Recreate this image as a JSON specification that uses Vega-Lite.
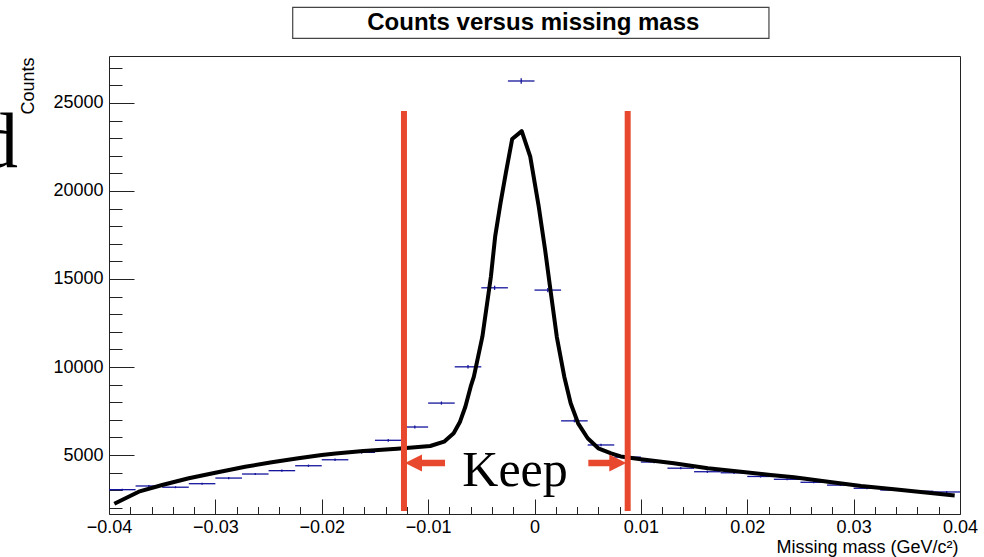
{
  "$schema": "https://vega.github.io/schema/vega-lite/v6.json",
  "autosize": {"type": "none"},
  "padding": {"left": 109, "top": 56, "right": 24, "bottom": 43},
  "width": 851,
  "height": 458,
  "background": "white",
  "config": {
    "view": {"stroke": "#222", "strokeWidth": 1},
    "font": "Liberation Sans"
  },
  "datasets": {
    "hist": [
      {"lo": -0.04, "hi": -0.0375, "c": -0.03875, "v": 3030, "vlo": 2975, "vhi": 3085},
      {"lo": -0.0375, "hi": -0.035, "c": -0.03625, "v": 3240, "vlo": 3183, "vhi": 3297},
      {"lo": -0.035, "hi": -0.0325, "c": -0.03375, "v": 3170, "vlo": 3114, "vhi": 3226},
      {"lo": -0.0325, "hi": -0.03, "c": -0.03125, "v": 3370, "vlo": 3312, "vhi": 3428},
      {"lo": -0.03, "hi": -0.0275, "c": -0.02875, "v": 3690, "vlo": 3629, "vhi": 3751},
      {"lo": -0.0275, "hi": -0.025, "c": -0.02625, "v": 3920, "vlo": 3857, "vhi": 3983},
      {"lo": -0.025, "hi": -0.0225, "c": -0.02375, "v": 4110, "vlo": 4046, "vhi": 4174},
      {"lo": -0.0225, "hi": -0.02, "c": -0.02125, "v": 4390, "vlo": 4324, "vhi": 4456},
      {"lo": -0.02, "hi": -0.0175, "c": -0.01875, "v": 4730, "vlo": 4661, "vhi": 4799},
      {"lo": -0.0175, "hi": -0.015, "c": -0.01625, "v": 5150, "vlo": 5078, "vhi": 5222},
      {"lo": -0.015, "hi": -0.0125, "c": -0.01375, "v": 5835, "vlo": 5759, "vhi": 5911},
      {"lo": -0.0125, "hi": -0.01, "c": -0.01125, "v": 6590, "vlo": 6509, "vhi": 6671},
      {"lo": -0.01, "hi": -0.0075, "c": -0.00875, "v": 7950, "vlo": 7861, "vhi": 8039},
      {"lo": -0.0075, "hi": -0.005, "c": -0.00625, "v": 10010, "vlo": 9910, "vhi": 10110},
      {"lo": -0.005, "hi": -0.0025, "c": -0.00375, "v": 14500, "vlo": 14380, "vhi": 14620},
      {"lo": -0.0025, "hi": 0, "c": -0.00125, "v": 26250, "vlo": 26088, "vhi": 26412},
      {"lo": 0, "hi": 0.0025, "c": 0.00125, "v": 14370, "vlo": 14250, "vhi": 14490},
      {"lo": 0.0025, "hi": 0.005, "c": 0.00375, "v": 6940, "vlo": 6857, "vhi": 7023},
      {"lo": 0.005, "hi": 0.0075, "c": 0.00625, "v": 5570, "vlo": 5495, "vhi": 5645},
      {"lo": 0.0075, "hi": 0.01, "c": 0.00875, "v": 4880, "vlo": 4810, "vhi": 4950},
      {"lo": 0.01, "hi": 0.0125, "c": 0.01125, "v": 4600, "vlo": 4532, "vhi": 4668},
      {"lo": 0.0125, "hi": 0.015, "c": 0.01375, "v": 4250, "vlo": 4185, "vhi": 4315},
      {"lo": 0.015, "hi": 0.0175, "c": 0.01625, "v": 4050, "vlo": 3986, "vhi": 4114},
      {"lo": 0.0175, "hi": 0.02, "c": 0.01875, "v": 3990, "vlo": 3927, "vhi": 4053},
      {"lo": 0.02, "hi": 0.0225, "c": 0.02125, "v": 3780, "vlo": 3719, "vhi": 3841},
      {"lo": 0.0225, "hi": 0.025, "c": 0.02375, "v": 3620, "vlo": 3560, "vhi": 3680},
      {"lo": 0.025, "hi": 0.0275, "c": 0.02625, "v": 3450, "vlo": 3391, "vhi": 3509},
      {"lo": 0.0275, "hi": 0.03, "c": 0.02875, "v": 3290, "vlo": 3233, "vhi": 3347},
      {"lo": 0.03, "hi": 0.0325, "c": 0.03125, "v": 3110, "vlo": 3054, "vhi": 3166},
      {"lo": 0.0325, "hi": 0.035, "c": 0.03375, "v": 3010, "vlo": 2955, "vhi": 3065},
      {"lo": 0.035, "hi": 0.0375, "c": 0.03625, "v": 2940, "vlo": 2886, "vhi": 2994},
      {"lo": 0.0375, "hi": 0.04, "c": 0.03875, "v": 2900, "vlo": 2846, "vhi": 2954}
    ],
    "fit": [
      {"x": -0.0395, "y": 2230}, {"x": -0.0372, "y": 2915}, {"x": -0.035, "y": 3295},
      {"x": -0.0325, "y": 3676}, {"x": -0.03, "y": 3994}, {"x": -0.0272, "y": 4335},
      {"x": -0.0247, "y": 4585}, {"x": -0.0222, "y": 4812}, {"x": -0.02, "y": 5000},
      {"x": -0.0187, "y": 5090}, {"x": -0.0161, "y": 5230}, {"x": -0.0129, "y": 5358},
      {"x": -0.0098, "y": 5511}, {"x": -0.0085, "y": 5756}, {"x": -0.0076, "y": 6233},
      {"x": -0.007, "y": 6892}, {"x": -0.0065, "y": 7744}, {"x": -0.006, "y": 8881},
      {"x": -0.0057, "y": 9450}, {"x": -0.0049, "y": 11722}, {"x": -0.0041, "y": 15131},
      {"x": -0.0037, "y": 17404}, {"x": -0.0032, "y": 19300}, {"x": -0.0027, "y": 21006},
      {"x": -0.0021, "y": 22950}, {"x": -0.0012, "y": 23400}, {"x": -0.0004, "y": 21950},
      {"x": 0.0004, "y": 19108}, {"x": 0.001, "y": 16648}, {"x": 0.0015, "y": 14375},
      {"x": 0.0021, "y": 11700}, {"x": 0.0028, "y": 9450}, {"x": 0.0034, "y": 7937},
      {"x": 0.0041, "y": 6801}, {"x": 0.005, "y": 5950}, {"x": 0.006, "y": 5380},
      {"x": 0.0072, "y": 5097}, {"x": 0.0081, "y": 4920}, {"x": 0.01, "y": 4756},
      {"x": 0.0131, "y": 4528}, {"x": 0.0163, "y": 4244}, {"x": 0.0194, "y": 4051},
      {"x": 0.0222, "y": 3864}, {"x": 0.0244, "y": 3733}, {"x": 0.0276, "y": 3483},
      {"x": 0.0307, "y": 3239}, {"x": 0.0338, "y": 3051}, {"x": 0.037, "y": 2858},
      {"x": 0.0395, "y": 2700}
    ],
    "cuts": [
      {"x": -0.01227, "ytop": 24546, "ybot": 1818},
      {"x": 0.00876, "ytop": 24546, "ybot": 1818}
    ],
    "shafts": [
      {"x1": -0.0108, "x2": -0.00841, "y": 4546},
      {"x1": 0.00506, "x2": 0.0073, "y": 4546}
    ],
    "heads": [
      {"x": -0.011375, "y": 4546, "dir": "left"},
      {"x": 0.00783, "y": 4546, "dir": "right"}
    ],
    "keep": [{"x": -0.00183, "y": 3256, "label": "Keep"}],
    "frag": [{"x": -0.04856, "y": 21381, "label": "d"}],
    "box": [{"x1": -0.02273, "x2": 0.02204, "y1": 28676, "y2": 30437}],
    "ttl": [{"x": -0.00011, "y": 29119, "label": "Counts versus missing mass"}]
  },
  "layer": [
    {
      "data": {"name": "hist"},
      "mark": {"type": "rule", "color": "#14149c", "strokeWidth": 1.3},
      "encoding": {
        "x": {
          "field": "lo", "type": "quantitative",
          "scale": {"domain": [-0.04, 0.04], "nice": false, "zero": false},
          "axis": {
            "orient": "bottom",
            "values": [-0.04, -0.03, -0.02, -0.01, 0, 0.01, 0.02, 0.03, 0.04],
            "format": "~g",
            "tickSize": -15, "tickColor": "#222", "tickWidth": 1,
            "domain": false, "grid": false,
            "labelFont": "Liberation Sans", "labelFontSize": 18, "labelColor": "#000",
            "labelPadding": 33, "labelBaseline": "alphabetic",
            "labelFlush": false, "labelOverlap": false,
            "title": "Missing mass (GeV/c²)",
            "titleFont": "Liberation Sans", "titleFontSize": 18, "titleFontWeight": "normal",
            "titleColor": "#000", "titleAlign": "right", "titleAnchor": "end",
            "titleBaseline": "alphabetic", "titleX": 849, "titleY": 38
          }
        },
        "x2": {"field": "hi"},
        "y": {
          "field": "v", "type": "quantitative",
          "scale": {"domain": [1648, 27670], "nice": false, "zero": false},
          "axis": {
            "orient": "left",
            "values": [5000, 10000, 15000, 20000, 25000],
            "format": "d",
            "tickSize": -25, "tickColor": "#222", "tickWidth": 1,
            "domain": false, "grid": false,
            "labelFont": "Liberation Sans", "labelFontSize": 18, "labelColor": "#000",
            "labelPadding": 31, "labelFlush": false, "labelOverlap": false,
            "title": "Counts",
            "titleFont": "Liberation Sans", "titleFontSize": 18, "titleFontWeight": "normal",
            "titleColor": "#000", "titleAngle": 270, "titleAlign": "right",
            "titleBaseline": "alphabetic", "titleX": -76, "titleY": 1
          }
        }
      }
    },
    {
      "data": {"name": "hist"},
      "mark": {"type": "rule", "color": "#14149c", "strokeWidth": 1.3},
      "encoding": {
        "x": {
          "field": "c", "type": "quantitative",
          "scale": {"domain": [-0.04, 0.04], "nice": false, "zero": false},
          "axis": {
            "orient": "bottom",
            "values": [-0.038, -0.036, -0.034, -0.032, -0.028, -0.026, -0.024, -0.022, -0.018, -0.016, -0.014, -0.012, -0.008, -0.006, -0.004, -0.002, 0.002, 0.004, 0.006, 0.008, 0.012, 0.014, 0.016, 0.018, 0.022, 0.024, 0.026, 0.028, 0.032, 0.034, 0.036, 0.038],
            "tickSize": -7.5, "tickColor": "#222", "tickWidth": 1,
            "labels": false, "domain": false, "grid": false, "title": null
          }
        },
        "y": {
          "field": "vlo", "type": "quantitative",
          "scale": {"domain": [1648, 27670], "nice": false, "zero": false},
          "axis": {
            "orient": "left",
            "values": [2000, 3000, 4000, 6000, 7000, 8000, 9000, 11000, 12000, 13000, 14000, 16000, 17000, 18000, 19000, 21000, 22000, 23000, 24000, 26000, 27000],
            "tickSize": -13, "tickColor": "#222", "tickWidth": 1,
            "labels": false, "domain": false, "grid": false, "title": null
          }
        },
        "y2": {"field": "vhi"}
      }
    },
    {
      "data": {"name": "fit"},
      "mark": {"type": "line", "color": "#000", "strokeWidth": 4, "strokeJoin": "round"},
      "encoding": {
        "x": {"field": "x", "type": "quantitative", "scale": {"domain": [-0.04, 0.04], "nice": false, "zero": false}, "axis": null},
        "y": {"field": "y", "type": "quantitative", "scale": {"domain": [1648, 27670], "nice": false, "zero": false}, "axis": null}
      }
    },
    {
      "data": {"name": "cuts"},
      "mark": {"type": "rule", "color": "#e8492e", "strokeWidth": 6},
      "encoding": {
        "x": {"field": "x", "type": "quantitative", "scale": {"domain": [-0.04, 0.04], "nice": false, "zero": false}, "axis": null},
        "y": {"field": "ytop", "type": "quantitative", "scale": {"domain": [1648, 27670], "nice": false, "zero": false}, "axis": null},
        "y2": {"field": "ybot"}
      }
    },
    {
      "data": {"name": "shafts"},
      "mark": {"type": "rule", "color": "#e8492e", "strokeWidth": 6.5},
      "encoding": {
        "x": {"field": "x1", "type": "quantitative", "scale": {"domain": [-0.04, 0.04], "nice": false, "zero": false}, "axis": null},
        "x2": {"field": "x2"},
        "y": {"field": "y", "type": "quantitative", "scale": {"domain": [1648, 27670], "nice": false, "zero": false}, "axis": null}
      }
    },
    {
      "data": {"name": "heads"},
      "mark": {"type": "point", "filled": true, "color": "#e8492e", "opacity": 1, "size": 289, "strokeWidth": 0},
      "encoding": {
        "x": {"field": "x", "type": "quantitative", "scale": {"domain": [-0.04, 0.04], "nice": false, "zero": false}, "axis": null},
        "y": {"field": "y", "type": "quantitative", "scale": {"domain": [1648, 27670], "nice": false, "zero": false}, "axis": null},
        "shape": {
          "field": "dir", "type": "nominal",
          "scale": {"domain": ["left", "right"], "range": ["M -1 0 L 1 -1 L 1 1 Z", "M 1 0 L -1 -1 L -1 1 Z"]},
          "legend": null
        }
      }
    },
    {
      "data": {"name": "keep"},
      "mark": {"type": "text", "font": "Liberation Serif", "fontSize": 50, "color": "#000", "align": "center", "baseline": "alphabetic"},
      "encoding": {
        "x": {"field": "x", "type": "quantitative", "scale": {"domain": [-0.04, 0.04], "nice": false, "zero": false}, "axis": null},
        "y": {"field": "y", "type": "quantitative", "scale": {"domain": [1648, 27670], "nice": false, "zero": false}, "axis": null},
        "text": {"field": "label"}
      }
    },
    {
      "data": {"name": "frag"},
      "mark": {"type": "text", "font": "Liberation Serif", "fontSize": 78, "color": "#000", "align": "right", "baseline": "alphabetic"},
      "encoding": {
        "x": {"field": "x", "type": "quantitative", "scale": {"domain": [-0.04, 0.04], "nice": false, "zero": false}, "axis": null},
        "y": {"field": "y", "type": "quantitative", "scale": {"domain": [1648, 27670], "nice": false, "zero": false}, "axis": null},
        "text": {"field": "label"}
      }
    },
    {
      "data": {"name": "box"},
      "mark": {"type": "rect", "fill": "white", "stroke": "#444", "strokeWidth": 1.2},
      "encoding": {
        "x": {"field": "x1", "type": "quantitative", "scale": {"domain": [-0.04, 0.04], "nice": false, "zero": false}, "axis": null},
        "x2": {"field": "x2"},
        "y": {"field": "y1", "type": "quantitative", "scale": {"domain": [1648, 27670], "nice": false, "zero": false}, "axis": null},
        "y2": {"field": "y2"}
      }
    },
    {
      "data": {"name": "ttl"},
      "mark": {"type": "text", "font": "Liberation Sans", "fontSize": 24, "fontWeight": "bold", "color": "#000", "align": "center", "baseline": "alphabetic"},
      "encoding": {
        "x": {"field": "x", "type": "quantitative", "scale": {"domain": [-0.04, 0.04], "nice": false, "zero": false}, "axis": null},
        "y": {"field": "y", "type": "quantitative", "scale": {"domain": [1648, 27670], "nice": false, "zero": false}, "axis": null},
        "text": {"field": "label"}
      }
    }
  ],
  "resolve": {"axis": {"x": "independent", "y": "independent"}}
}
